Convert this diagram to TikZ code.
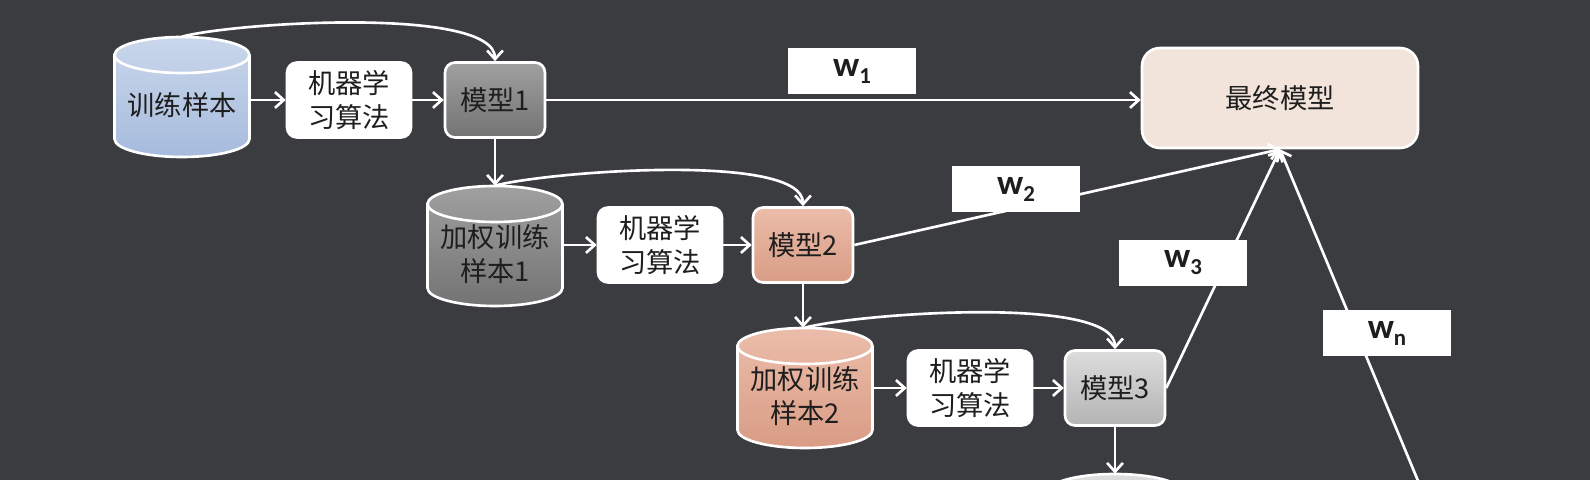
\documentclass[tikz,border=0pt]{standalone}
\usepackage{fontspec}
\setmainfont{Noto Sans CJK SC}
\newfontfamily\wfont{Carlito}
\usetikzlibrary{arrows.meta}

\definecolor{bgdark}{HTML}{3A3C3F}
\definecolor{textdark}{HTML}{1E1E1E}
\definecolor{finalfill}{HTML}{F2E4DA}
\definecolor{blueTop}{HTML}{CAD7EB}
\definecolor{blueBot}{HTML}{A6BBDD}
\definecolor{grayTop}{HTML}{A0A0A0}
\definecolor{grayBot}{HTML}{737373}
\definecolor{salmonTop}{HTML}{EBBDAA}
\definecolor{salmonBot}{HTML}{D99C85}
\definecolor{lightTop}{HTML}{DCDCDC}
\definecolor{lightBot}{HTML}{B4B4B4}
\newcommand{\wlab}[1]{{\wfont\bfseries\fontsize{20}{20}\selectfont w\raisebox{-4pt}{\fontsize{13}{13}\selectfont #1}}}

\begin{document}
\begin{tikzpicture}[x=0.02cm,y=0.02cm,
    every node/.style={font=\fontsize{15.5}{19.5}\selectfont, text=textdark, align=center},
    box/.style={draw=white, line width=1.5pt, rounded corners=0.2cm, minimum height=1.5cm, inner sep=0pt},
    algo/.style={box, fill=white, minimum width=2.48cm},
    model/.style={box, minimum width=2cm},
    cylline/.style={draw=white, line width=1.5pt},
    data/.style={minimum width=2.7cm, minimum height=2.72cm, inner sep=0pt},
    weight/.style={fill=white, minimum width=2.56cm, minimum height=0.92cm, inner sep=0pt},
    link/.style={draw=white, line width=1.5pt, -{Straight Barb[length=5pt,width=9pt]}}]
    \fill[bgdark] (0,0) rectangle (1590,480);
    \useasboundingbox (0,0) rectangle (1590,480);
    \clip (0,0) rectangle (1590,480);

    % cylinders
    \draw[cylline, top color=blueTop, bottom color=blueBot] (114.5,425) -- (114.5,341)
        arc[start angle=180, end angle=360, x radius=1.35cm, y radius=0.36cm] -- (249.5,425)
        arc[start angle=0, end angle=180, x radius=1.35cm, y radius=0.36cm] -- cycle;
    \draw[cylline] (114.5,425) arc[start angle=180, end angle=360, x radius=1.35cm, y radius=0.36cm];
    \draw[cylline, top color=grayTop, bottom color=grayBot] (427.5,276) -- (427.5,192)
        arc[start angle=180, end angle=360, x radius=1.35cm, y radius=0.36cm] -- (562.5,276)
        arc[start angle=0, end angle=180, x radius=1.35cm, y radius=0.36cm] -- cycle;
    \draw[cylline] (427.5,276) arc[start angle=180, end angle=360, x radius=1.35cm, y radius=0.36cm];
    \draw[cylline, top color=salmonTop, bottom color=salmonBot] (737.5,134) -- (737.5,50)
        arc[start angle=180, end angle=360, x radius=1.35cm, y radius=0.36cm] -- (872.5,134)
        arc[start angle=0, end angle=180, x radius=1.35cm, y radius=0.36cm] -- cycle;
    \draw[cylline] (737.5,134) arc[start angle=180, end angle=360, x radius=1.35cm, y radius=0.36cm];
    \draw[cylline, fill=lightTop] (1047.5,-12) -- (1047.5,-96)
        arc[start angle=180, end angle=360, x radius=1.35cm, y radius=0.36cm] -- (1182.5,-12)
        arc[start angle=0, end angle=180, x radius=1.35cm, y radius=0.36cm] -- cycle;

    % first round
    \node[data] (c1) at (182,375) {训练样本};
    \node[algo] (a1) at (349,380) {机器学\\习算法};
    \node[model, top color=grayTop, bottom color=grayBot] (m1) at (495,380) {模型1};

    % second round
    \node[data] (c2) at (495,226) {加权训练\\样本1};
    \node[algo] (a2) at (660,235) {机器学\\习算法};
    \node[model, top color=salmonTop, bottom color=salmonBot] (m2) at (803,235) {模型2};

    % third round
    \node[data] (c3) at (805,84) {加权训练\\样本2};
    \node[algo] (a3) at (970,92) {机器学\\习算法};
    \node[model, top color=lightTop, bottom color=lightBot] (m3) at (1115,92) {模型3};

    \node[data] (c4) at (1115,-62) {};
    \node[box, fill=finalfill, minimum width=5.52cm, minimum height=2cm, rounded corners=0.36cm] (fin) at (1280,382) {最终模型};
    \coordinate (nend) at (1426,-20);

    \draw[link] (c1.east |- a1.west) -- (a1.west);
    \draw[link] (a1.east) -- (m1.west);
    \draw[link] (c1.north) to[out=15,in=90,looseness=0.45] (m1.north);
    \draw[link] (m1.south) -- (c2.north);
    \draw[link] (m1.east) -- (m1.east -| fin.west);

    \draw[link] (c2.east |- a2.west) -- (a2.west);
    \draw[link] (a2.east) -- (m2.west);
    \draw[link] (c2.north) to[out=15,in=90,looseness=0.45] (m2.north);
    \draw[link] (m2.south) -- (m2.south |- c3.north);
    \draw[link] (m2.east) -- (fin.south);

    \draw[link] (c3.east |- a3.west) -- (a3.west);
    \draw[link] (a3.east) -- (m3.west);
    \draw[link] (c3.north) to[out=15,in=90,looseness=0.45] (m3.north);
    \draw[link] (m3.south) -- (c4.north);
    \draw[link] (m3.east) -- (fin.south);
    \draw[link] (nend) -- (fin.south);

    \node[weight] (w1) at (852,409) {\wlab{1}};
    \node[weight] (w2) at (1016,291) {\wlab{2}};
    \node[weight] (w3) at (1183,217) {\wlab{3}};
    \node[weight] (wn) at (1387,147) {\wlab{n}};
\end{tikzpicture}
\end{document}
